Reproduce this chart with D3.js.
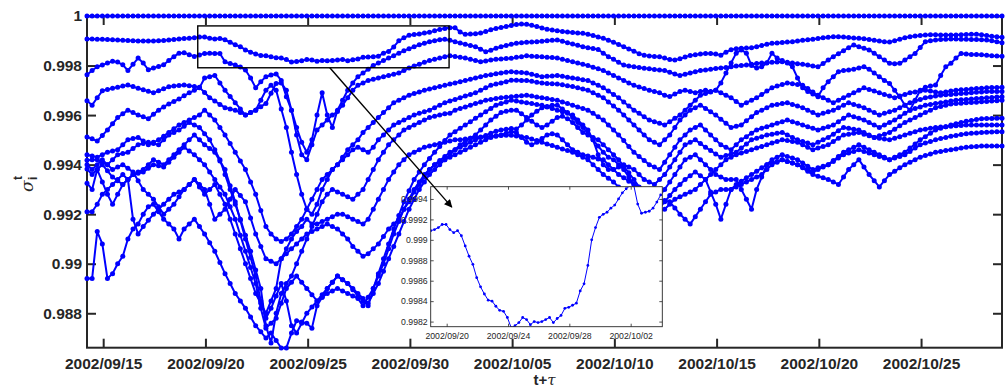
<!DOCTYPE html>
<html>
<head>
<meta charset="utf-8">
<script src="https://cdn.jsdelivr.net/npm/d3@7/dist/d3.min.js"></script>
<style>
  body { margin: 0; background: #fff; }
  svg { display: block; }
</style>
</head>
<body>
<svg id="chart" width="1006" height="389"></svg>
<script>
// samples are 6-hourly, first one at this time
const firstSample = '2002/09/14 05:00';
const sampleStepHours = 6;

// sigma_i^t for the twelve nodes
const series1 = [
1,1,1,1,1,1,1,1,1,1, 1,1,1,1,1,1,1,1,1,1, 1,1,1,1,1,1,1,1,1,1,
1,1,1,1,1,1,1,1,1,1, 1,1,1,1,1,1,1,1,1,1, 1,1,1,1,1,1,1,1,1,1,
1,1,1,1,1,1,1,1,1,1, 1,1,1,1,1,1,1,1,1,1, 1,1,1,1,1,1,1,1,1,1,
1,1,1,1,1,1,1,1,1,1, 1,1,1,1,1,1,1,1,1,1, 1,1,1,1,1,1,1,1,1,1,
1,1,1,1,1,1,1,1,1,1, 1,1,1,1,1,1,1,1,1,1, 1,1,1,1,1,1,1,1,1,1,
1,1,1,1,1,1,1,1,1,1, 1,1,1,1,1,1,1,1,1,1, 1,1,1,1,1,1,1,1,1,1];
const series2 = [
0.99907,0.99907,0.99906,0.99906,0.99905,0.99904,0.99903,0.99902,0.99901,0.999,
0.99899,0.99899,0.99899,0.99899,0.999,0.99901,0.99903,0.99905,0.99907,0.99909,
0.9991,0.99912,0.99915,0.99915,0.9991,0.99907,0.99909,0.99904,0.99894,0.99884,
0.99876,0.99863,0.99854,0.99847,0.99841,0.9984,0.99835,0.99831,0.9983,0.99824,
0.99814,0.99816,0.99819,0.99824,0.99822,0.99817,0.9982,0.99819,0.9982,0.99822,
0.99824,0.99819,0.99823,0.99826,0.99833,0.99834,0.99836,0.99838,0.9985,0.99857,
0.99875,0.999,0.99912,0.99922,0.99925,0.99927,0.99931,0.99934,0.9994,0.99946,
0.9995,0.99953,0.99953,0.99935,0.99926,0.99927,0.99928,0.99931,0.99937,0.99944,
0.9995,0.99954,0.99958,0.99962,0.99966,0.99968,0.99967,0.99963,0.99958,0.99952,
0.99947,0.99943,0.9994,0.99937,0.99935,0.99933,0.99931,0.9993,0.99926,0.99921,
0.99915,0.9991,0.99902,0.99894,0.99885,0.99876,0.99867,0.99858,0.99848,0.99842,
0.99839,0.99837,0.99836,0.9983,0.99824,0.99822,0.99827,0.99834,0.99841,0.99844,
0.99847,0.99849,0.99849,0.99847,0.99842,0.99854,0.99864,0.99868,0.9987,0.99871,
0.99872,0.99876,0.99881,0.99886,0.9989,0.99891,0.99893,0.99895,0.99896,0.99899,
0.99902,0.99904,0.99906,0.99909,0.99912,0.99914,0.99916,0.99916,0.99915,0.99913,
0.99911,0.9991,0.99908,0.99905,0.99902,0.99899,0.99896,0.99895,0.999,0.99906,
0.99912,0.99916,0.99919,0.99921,0.99923,0.99924,0.99924,0.99923,0.99923,0.99923,
0.99923,0.99924,0.99925,0.99926,0.99926,0.99924,0.99921,0.99918,0.99916,0.99914];
const series3 = [
0.99763,0.9978,0.99795,0.99802,0.9981,0.99817,0.99814,0.99803,0.9978,0.99805,
0.9983,0.9981,0.99783,0.9979,0.99796,0.99803,0.9982,0.99836,0.9985,0.99852,
0.99844,0.99837,0.99843,0.99849,0.9985,0.99849,0.99849,0.99815,0.99808,0.99802,
0.99794,0.99782,0.9975,0.9971,0.99735,0.99755,0.99762,0.99766,0.9974,0.99674,
0.9962,0.9955,0.9949,0.9945,0.995,0.996,0.9969,0.996,0.9955,0.9962,
0.9966,0.997,0.9973,0.99755,0.9977,0.99785,0.998,0.9981,0.9982,0.9983,
0.9984,0.9985,0.9986,0.99868,0.99876,0.99884,0.9989,0.99896,0.999,0.99904,
0.99906,0.99902,0.99896,0.99891,0.99886,0.99881,0.99876,0.99866,0.99856,0.99862,
0.9987,0.99876,0.99881,0.99886,0.9989,0.99892,0.99894,0.99895,0.99896,0.99898,
0.999,0.99902,0.99903,0.99898,0.99892,0.99887,0.99882,0.99876,0.99872,0.99869,
0.99865,0.9985,0.99836,0.99825,0.99813,0.99802,0.99798,0.99795,0.99792,0.99789,
0.99787,0.99784,0.99782,0.9978,0.99773,0.99766,0.9976,0.99765,0.9977,0.99775,
0.9978,0.99782,0.99785,0.99788,0.9979,0.99792,0.99795,0.99798,0.998,0.99802,
0.99805,0.99808,0.9981,0.99811,0.99813,0.99814,0.99815,0.99813,0.9981,0.99807,
0.99805,0.99802,0.99798,0.99795,0.99808,0.99822,0.99836,0.99848,0.9986,0.99872,
0.99883,0.99876,0.9987,0.99863,0.9985,0.99835,0.99822,0.99809,0.99807,0.99809,
0.99822,0.99836,0.99849,0.99873,0.99896,0.999,0.99903,0.99905,0.99906,0.99907,
0.99907,0.99906,0.99906,0.99905,0.99905,0.99904,0.99903,0.999,0.99896,0.99892];
const series4 = [
0.99658,0.9964,0.9967,0.99698,0.99703,0.99708,0.99712,0.99717,0.99721,0.99715,
0.99708,0.99702,0.99696,0.9969,0.99698,0.99706,0.99714,0.99717,0.99719,0.99721,
0.99718,0.99715,0.99712,0.99691,0.9967,0.99657,0.99643,0.9963,0.99625,0.9962,
0.9961,0.996,0.9961,0.9962,0.99634,0.99647,0.99688,0.99728,0.9973,0.997,
0.9962,0.9952,0.9944,0.9942,0.9948,0.9954,0.9956,0.9958,0.996,0.99614,
0.9964,0.9967,0.997,0.9972,0.9973,0.9974,0.99745,0.9975,0.99755,0.9976,
0.99765,0.9977,0.9978,0.9979,0.99798,0.99805,0.99813,0.9982,0.99825,0.9983,
0.99835,0.9984,0.99837,0.99833,0.9983,0.99825,0.9982,0.99815,0.99818,0.99822,
0.99825,0.99826,0.99828,0.99829,0.99833,0.99836,0.9984,0.99838,0.99837,0.99835,
0.99833,0.99832,0.9983,0.99825,0.9982,0.99815,0.9981,0.99805,0.998,0.99793,
0.99787,0.9978,0.9977,0.9976,0.9975,0.9974,0.9973,0.9972,0.99713,0.99707,
0.997,0.99695,0.9969,0.9968,0.99675,0.99685,0.99695,0.997,0.99695,0.9969,
0.99695,0.997,0.99695,0.997,0.9973,0.9977,0.9981,0.9985,0.99863,0.9985,
0.998,0.9979,0.99795,0.9981,0.9985,0.9983,0.9982,0.9981,0.99795,0.9975,
0.9971,0.99695,0.99685,0.99674,0.9971,0.99735,0.99755,0.99775,0.9978,0.99782,
0.99785,0.9979,0.99795,0.99785,0.9977,0.99755,0.9974,0.99728,0.997,0.99674,
0.9964,0.9962,0.9966,0.997,0.99712,0.99717,0.99721,0.9976,0.99795,0.99809,
0.9983,0.99849,0.99847,0.99845,0.99845,0.99844,0.99842,0.9984,0.99839,0.99838];
const series5 = [
0.99512,0.99504,0.99495,0.99518,0.9954,0.99565,0.9959,0.99605,0.9962,0.9961,
0.996,0.99593,0.99585,0.99603,0.9962,0.99633,0.99645,0.99655,0.99665,0.99678,
0.9969,0.997,0.9971,0.9975,0.99755,0.9976,0.9973,0.997,0.99675,0.9965,
0.99625,0.996,0.9961,0.9962,0.9966,0.997,0.9972,0.997,0.99625,0.9955,
0.9945,0.9936,0.9928,0.9922,0.992,0.9924,0.993,0.9934,0.9938,0.994,
0.9943,0.9946,0.9948,0.995,0.9953,0.9955,0.9957,0.9959,0.9961,0.9963,
0.9965,0.9966,0.9967,0.9968,0.99687,0.99693,0.997,0.99705,0.9971,0.99715,
0.9972,0.99725,0.9973,0.99735,0.9974,0.99745,0.9975,0.99755,0.9976,0.99763,
0.99767,0.9977,0.99773,0.99775,0.99773,0.99772,0.9977,0.99765,0.9976,0.99755,
0.99757,0.99758,0.9976,0.99757,0.99753,0.9975,0.99747,0.99743,0.9974,0.9973,
0.9972,0.9971,0.99697,0.99683,0.9967,0.99653,0.99637,0.9962,0.99607,0.99593,
0.9958,0.99573,0.99567,0.9956,0.99573,0.99587,0.996,0.9962,0.9964,0.9966,
0.9968,0.99687,0.99693,0.997,0.9969,0.9968,0.9967,0.99655,0.9964,0.9965,
0.9966,0.9967,0.99683,0.99697,0.9971,0.99717,0.99723,0.9973,0.99727,0.99723,
0.9972,0.99707,0.99693,0.9968,0.9967,0.9966,0.9965,0.9966,0.9967,0.9968,
0.9969,0.997,0.9971,0.99703,0.99697,0.9969,0.99683,0.99677,0.9967,0.99677,
0.99683,0.9969,0.99693,0.99697,0.997,0.99697,0.99693,0.9969,0.99693,0.99697,
0.997,0.99702,0.99703,0.99705,0.99707,0.99708,0.9971,0.99711,0.99711,0.99712];
const series6 = [
0.9944,0.99435,0.9943,0.9944,0.9945,0.99455,0.9946,0.9948,0.995,0.99505,
0.9951,0.99495,0.9948,0.9949,0.995,0.99515,0.9953,0.99545,0.9956,0.9957,
0.9958,0.9959,0.996,0.9962,0.996,0.9958,0.9955,0.9952,0.99485,0.9945,
0.99415,0.9938,0.9933,0.9928,0.99215,0.9915,0.9912,0.991,0.9909,0.991,
0.9912,0.9915,0.9918,0.9922,0.9926,0.993,0.9934,0.9936,0.9938,0.994,
0.9942,0.9944,0.9946,0.9947,0.9946,0.9945,0.9947,0.995,0.9952,0.9954,
0.9956,0.9957,0.9958,0.9959,0.996,0.99607,0.99613,0.9962,0.9963,0.9964,
0.9965,0.99657,0.99663,0.9967,0.99677,0.99683,0.9969,0.997,0.9971,0.9972,
0.99725,0.9973,0.99735,0.99741,0.99741,0.9974,0.9974,0.99737,0.99733,0.9973,
0.99728,0.99727,0.99725,0.99722,0.99718,0.99715,0.9971,0.99705,0.997,0.9969,
0.9968,0.9967,0.99653,0.99637,0.9962,0.996,0.9958,0.9956,0.9954,0.9952,
0.995,0.9949,0.9948,0.995,0.9952,0.9955,0.9958,0.996,0.9962,0.9963,
0.9964,0.99627,0.99613,0.996,0.99583,0.99567,0.9955,0.99555,0.9956,0.99577,
0.99593,0.9961,0.9962,0.9963,0.9964,0.99643,0.99647,0.9965,0.99643,0.99637,
0.9963,0.9962,0.9961,0.996,0.99607,0.99613,0.9962,0.9963,0.9964,0.9965,
0.99643,0.99637,0.9963,0.9962,0.9961,0.996,0.99607,0.99613,0.9962,0.9963,
0.9964,0.9965,0.99657,0.99663,0.9967,0.99673,0.99677,0.9968,0.99682,0.99683,
0.99685,0.99687,0.99688,0.9969,0.99692,0.99693,0.99695,0.99695,0.99695,0.99695];
const series7 = [
0.99418,0.9942,0.9942,0.9941,0.994,0.9942,0.9944,0.99445,0.9945,0.99465,
0.9948,0.99485,0.9949,0.99485,0.9948,0.995,0.9952,0.9953,0.9954,0.99555,
0.9957,0.9956,0.9955,0.99525,0.995,0.9946,0.9942,0.9936,0.993,0.9924,
0.9918,0.99115,0.9905,0.98975,0.989,0.9875,0.9868,0.988,0.9888,0.9892,
0.9895,0.99,0.9905,0.991,0.9915,0.992,0.9925,0.9928,0.993,0.9929,
0.9928,0.9927,0.9926,0.9928,0.993,0.9934,0.9938,0.9942,0.9945,0.9948,
0.995,0.9952,0.9954,0.9955,0.9956,0.9957,0.9958,0.9959,0.99595,0.996,
0.99605,0.99607,0.9962,0.99627,0.99633,0.9964,0.99647,0.99653,0.9966,0.99663,
0.99667,0.9967,0.99672,0.99674,0.99676,0.99678,0.9968,0.99677,0.99673,0.9967,
0.99667,0.99663,0.9966,0.99653,0.99647,0.9964,0.99633,0.99627,0.9962,0.99607,
0.99593,0.9958,0.9956,0.9954,0.9952,0.99497,0.99473,0.9945,0.99433,0.99417,
0.994,0.9939,0.9938,0.9941,0.9944,0.9947,0.995,0.9952,0.9954,0.9955,
0.9956,0.9954,0.9952,0.995,0.9948,0.9947,0.9946,0.9948,0.995,0.99513,
0.99527,0.9954,0.99547,0.99553,0.9956,0.99567,0.99573,0.9958,0.99573,0.99567,
0.9956,0.99553,0.99547,0.9954,0.99547,0.99553,0.9956,0.99573,0.99587,0.996,
0.99593,0.99587,0.9958,0.9957,0.9956,0.9955,0.9956,0.9957,0.9958,0.99593,
0.99607,0.9962,0.99627,0.99633,0.9964,0.99643,0.99647,0.9965,0.99653,0.99657,
0.9966,0.99662,0.99663,0.99665,0.99667,0.99668,0.9967,0.99671,0.99673,0.99674];
const series8 = [
0.99382,0.9936,0.9938,0.994,0.99375,0.9935,0.99335,0.9932,0.9934,0.9936,
0.9937,0.9938,0.994,0.9942,0.9941,0.994,0.9942,0.9944,0.9946,0.9948,
0.995,0.9952,0.995,0.9948,0.99465,0.9945,0.99415,0.9938,0.99315,0.9925,
0.99175,0.991,0.99025,0.9895,0.9885,0.9878,0.9882,0.9887,0.9892,0.9885,
0.9875,0.9872,0.9876,0.988,0.98825,0.9885,0.98865,0.9888,0.9889,0.989,
0.9889,0.9888,0.9887,0.9886,0.9883,0.98865,0.989,0.9896,0.9902,0.9908,
0.9914,0.99195,0.9925,0.99295,0.9934,0.9937,0.994,0.99425,0.9945,0.99473,
0.99497,0.9952,0.99533,0.99547,0.9956,0.99573,0.99587,0.996,0.99613,0.99627,
0.9964,0.99647,0.99653,0.9966,0.99657,0.99653,0.9965,0.99647,0.99643,0.9964,
0.99633,0.99627,0.9962,0.99613,0.99607,0.996,0.9958,0.9956,0.9954,0.995,
0.9944,0.994,0.9938,0.9938,0.9939,0.994,0.9939,0.9938,0.9936,0.9934,
0.9933,0.9932,0.9934,0.9936,0.9939,0.9942,0.9945,0.9948,0.9949,0.995,
0.99485,0.9947,0.99457,0.99443,0.9943,0.99437,0.99443,0.9945,0.99467,0.99483,
0.995,0.99507,0.99513,0.9952,0.99523,0.99527,0.9953,0.9952,0.9951,0.995,
0.99493,0.99487,0.9948,0.9949,0.995,0.9951,0.99523,0.99537,0.9955,0.99547,
0.99543,0.9954,0.9953,0.9952,0.9951,0.99517,0.99523,0.9953,0.99543,0.99557,
0.9957,0.9958,0.9959,0.996,0.9961,0.9962,0.9963,0.99635,0.9964,0.99645,
0.99647,0.99648,0.9965,0.99651,0.99652,0.99654,0.99655,0.99657,0.99658,0.9966];
const series9 = [
0.99325,0.993,0.9938,0.9933,0.9928,0.9924,0.9928,0.9932,0.9934,0.9936,
0.99365,0.9937,0.99385,0.994,0.99395,0.9939,0.9941,0.9943,0.9945,0.9947,
0.99455,0.9944,0.9942,0.994,0.9937,0.9934,0.9931,0.9928,0.9923,0.9918,
0.99115,0.9905,0.98985,0.9892,0.9882,0.9874,0.9876,0.9878,0.9884,0.989,
0.98925,0.9895,0.98925,0.989,0.98875,0.9885,0.98875,0.989,0.98925,0.9895,
0.98935,0.9892,0.989,0.9888,0.9886,0.9884,0.9888,0.9892,0.9897,0.9902,
0.9907,0.9912,0.9917,0.9922,0.9926,0.993,0.9933,0.9936,0.9938,0.994,
0.9942,0.9944,0.9946,0.9948,0.99493,0.99507,0.9952,0.9954,0.9956,0.9958,
0.99595,0.9961,0.99615,0.9962,0.9962,0.99605,0.9959,0.99575,0.9956,0.9955,
0.9956,0.99575,0.9959,0.99595,0.99585,0.9957,0.9955,0.9953,0.9952,0.9951,
0.995,0.9948,0.9946,0.9944,0.9942,0.99393,0.99367,0.9934,0.9931,0.9928,
0.99265,0.9925,0.99275,0.993,0.9933,0.9936,0.9939,0.9942,0.9943,0.9944,
0.9942,0.994,0.9938,0.9936,0.9935,0.9934,0.9934,0.9934,0.993,0.9926,
0.9922,0.993,0.9935,0.994,0.9942,0.9943,0.9944,0.99433,0.99427,0.9942,
0.99407,0.99393,0.9938,0.99387,0.99393,0.994,0.99413,0.99427,0.9944,0.99447,
0.99453,0.9946,0.99453,0.99447,0.9944,0.99433,0.99427,0.9942,0.9943,0.9944,
0.9945,0.99467,0.99483,0.995,0.99513,0.99527,0.9954,0.99547,0.99553,0.9956,
0.99565,0.9957,0.99575,0.99578,0.99582,0.99585,0.99586,0.99586,0.99587,0.99587];
const series10 = [
0.9921,0.9921,0.9924,0.9928,0.993,0.9932,0.9934,0.9936,0.9934,0.9918,
0.9912,0.9915,0.99175,0.992,0.9922,0.9924,0.9926,0.9928,0.9929,0.993,
0.9932,0.9934,0.9932,0.993,0.9924,0.9918,0.992,0.9922,0.9926,0.993,
0.99275,0.9925,0.99185,0.9912,0.9907,0.9902,0.9901,0.99,0.9902,0.9904,
0.9906,0.9908,0.991,0.9912,0.9913,0.9914,0.9915,0.9916,0.9915,0.9914,
0.9912,0.991,0.9907,0.9905,0.9903,0.9904,0.9906,0.9908,0.9911,0.9914,
0.9916,0.9918,0.9922,0.9925,0.9929,0.9932,0.9935,0.9938,0.994,0.99417,
0.99433,0.9945,0.9946,0.9947,0.9948,0.9949,0.995,0.9951,0.99518,0.99527,
0.99535,0.9954,0.99543,0.99546,0.99544,0.9956,0.9958,0.996,0.99615,0.9963,
0.99635,0.9964,0.9964,0.99625,0.9961,0.9959,0.9957,0.9955,0.99525,0.995,
0.99475,0.9945,0.9943,0.9942,0.994,0.9938,0.9935,0.9932,0.9928,0.9924,
0.9922,0.992,0.99225,0.9925,0.99275,0.993,0.9932,0.9934,0.99355,0.9937,
0.99355,0.9934,0.9929,0.9924,0.9918,0.9924,0.993,0.9932,0.99333,0.99347,
0.9936,0.99373,0.99387,0.994,0.99407,0.99413,0.9942,0.99413,0.99407,0.994,
0.9939,0.9938,0.9937,0.9938,0.9939,0.994,0.99417,0.99433,0.9945,0.9946,
0.9947,0.9948,0.9947,0.9946,0.9945,0.9944,0.9943,0.9942,0.99427,0.99433,
0.9944,0.99453,0.99467,0.9948,0.99487,0.99493,0.995,0.99505,0.9951,0.99515,
0.99518,0.99522,0.99525,0.99527,0.99528,0.9953,0.99531,0.99532,0.99533,0.99533];
const series11 = [
0.9894,0.9894,0.9913,0.9908,0.9894,0.9896,0.99,0.9903,0.991,0.9914,
0.9916,0.992,0.9923,0.9924,0.9921,0.9918,0.9916,0.9914,0.991,0.9914,
0.9916,0.9918,0.9915,0.9912,0.99085,0.9905,0.99005,0.9896,0.9892,0.9888,
0.9885,0.9882,0.98785,0.9875,0.98725,0.987,0.9872,0.9869,0.9866,0.9866,
0.9872,0.9877,0.98765,0.9876,0.9874,0.9883,0.98865,0.989,0.98925,0.9895,
0.98935,0.9892,0.98895,0.9887,0.9885,0.9883,0.989,0.9895,0.99,0.9906,
0.9912,0.9917,0.9922,0.9926,0.993,0.9933,0.9936,0.9938,0.994,0.9941,
0.9942,0.9943,0.9944,0.9945,0.9946,0.9947,0.9948,0.9949,0.995,0.9951,
0.99515,0.9952,0.99527,0.99533,0.9953,0.9951,0.9949,0.9948,0.9949,0.99505,
0.9952,0.99525,0.9952,0.995,0.9948,0.9946,0.9945,0.9944,0.99435,0.9943,
0.99423,0.9942,0.994,0.9938,0.9936,0.99347,0.99333,0.9932,0.99307,0.99293,
0.9928,0.9927,0.9926,0.99255,0.9925,0.99225,0.992,0.9918,0.9916,0.9919,
0.9922,0.9925,0.9928,0.9929,0.993,0.993,0.993,0.9931,0.9932,0.9933,
0.9934,0.9935,0.9936,0.9938,0.994,0.9941,0.9942,0.99413,0.99407,0.994,
0.99387,0.99373,0.9936,0.99353,0.99347,0.9934,0.9933,0.9932,0.9935,0.9938,
0.994,0.9942,0.9939,0.9936,0.99335,0.9931,0.99335,0.9936,0.99373,0.99387,
0.994,0.9941,0.9942,0.9943,0.99437,0.99443,0.9945,0.99453,0.99457,0.9946,
0.99463,0.99467,0.9947,0.99472,0.99473,0.99475,0.99475,0.99475,0.99475,0.99475];
const series12 = [
0.994,0.9938,0.994,0.9942,0.994,0.9938,0.9939,0.994,0.99385,0.9937,
0.99335,0.993,0.9928,0.9926,0.9923,0.992,0.9922,0.9924,0.9927,0.993,
0.9932,0.9934,0.9931,0.9928,0.993,0.9932,0.9928,0.9924,0.9918,0.9912,
0.9906,0.99,0.9894,0.9888,0.9884,0.988,0.9885,0.989,0.9902,0.9906,
0.991,0.9913,0.9915,0.9918,0.9916,0.9916,0.9917,0.9918,0.9919,0.992,
0.992,0.9919,0.9918,0.9917,0.9916,0.9918,0.9922,0.9926,0.993,0.9934,
0.9937,0.994,0.9942,0.9944,0.9945,0.9946,0.9947,0.99475,0.9948,0.99485,
0.9949,0.99495,0.995,0.995,0.99503,0.99507,0.9951,0.99512,0.99513,0.99515,
0.99517,0.99518,0.99519,0.99519,0.99516,0.99513,0.9951,0.99503,0.99497,0.9949,
0.99483,0.99477,0.9947,0.99463,0.99457,0.9945,0.9944,0.9943,0.9942,0.994,
0.9938,0.9936,0.99345,0.9933,0.9931,0.9929,0.9927,0.9925,0.9923,0.9922,
0.9921,0.992,0.9921,0.9922,0.9924,0.9926,0.9927,0.9928,0.9929,0.993,
0.9932,0.9934,0.9936,0.9938,0.994,0.9942,0.9943,0.9944,0.99447,0.99453,
0.9946,0.99467,0.99473,0.9948,0.99487,0.99493,0.995,0.99497,0.99493,0.9949,
0.9948,0.9947,0.9946,0.99467,0.99473,0.9948,0.99493,0.99507,0.9952,0.99523,
0.99527,0.9953,0.99523,0.99517,0.9951,0.99507,0.99503,0.995,0.99507,0.99513,
0.9952,0.99527,0.99533,0.9954,0.99543,0.99547,0.9955,0.99552,0.99553,0.99555,
0.99557,0.99558,0.9956,0.9956,0.9956,0.9956,0.9956,0.9956,0.9956,0.9956];

const allSeries = [series1, series2, series3, series4, series5, series6,
  series7, series8, series9, series10, series11, series12];

const mainYRange = [0.98661, 1];
const yTickValues = [0.988, 0.99, 0.992, 0.994, 0.996, 0.998, 1];
const yTickLabels = ['0.988', '0.99', '0.992', '0.994', '0.996', '0.998', '1'];
const xTickLabels = ['2002/09/15', '2002/09/20', '2002/09/25', '2002/09/30', '2002/10/05',
  '2002/10/10', '2002/10/15', '2002/10/20', '2002/10/25'];

// zoom window marked on the main plot
const zoomStart = '2002/09/19 15:00';
const zoomEnd = '2002/10/01 22:00';
const zoomTop = 0.9996;
const zoomBottom = 0.99791;
const arrowFrom = '2002/09/26 02:00';
const arrowTo = ['2002/09/20 08:00', 0.99932];

// inset: close-up of series2
const insetXRange = ['2002/09/18 23:00', '2002/10/04 01:30'];
const insetYRange = [0.99815, 0.99952];
const insetYTickValues = [0.9982, 0.9984, 0.9986, 0.9988, 0.999, 0.9992, 0.9994];
const insetYTickLabels = ['0.9982', '0.9984', '0.9986', '0.9988', '0.999', '0.9992', '0.9994'];
const insetXTickLabels = ['2002/09/20', '2002/09/24', '2002/09/28', '2002/10/02'];

const blue = '#0000ff';
const ink = '#262626';
const fontFamily = '"Liberation Sans", Arial, Helvetica, sans-serif';

const plot = { left: 87, right: 1002, top: 16, bottom: 347.7 };
const box = { left: 430.7, right: 662.3, top: 186.7, bottom: 326.7 };

const parseDay = d3.timeParse('%Y/%m/%d');
const parseTime = d3.timeParse('%Y/%m/%d %H:%M');
const t0 = parseTime(firstSample);
const timeAt = i => d3.timeHour.offset(t0, i * sampleStepHours);

const svg = d3.select('#chart');

const x = d3.scaleTime()
  .domain([t0, timeAt(series1.length - 1)])
  .range([plot.left, plot.right]);
const y = d3.scaleLinear().domain(mainYRange).range([plot.bottom, plot.top]);

// frame + ticks (ticks point inwards)
svg.append('rect')
  .attr('x', plot.left).attr('y', plot.top)
  .attr('width', plot.right - plot.left).attr('height', plot.bottom - plot.top)
  .attr('fill', 'none').attr('stroke', ink).attr('stroke-width', 2);

const xTicks = xTickLabels.map(parseDay);

const gBottom = svg.append('g')
  .attr('transform', `translate(0,${plot.bottom})`)
  .call(d3.axisBottom(x).tickValues(xTicks).tickFormat(d3.timeFormat('%Y/%m/%d')).tickSize(-9).tickPadding(10));
const gTop = svg.append('g')
  .attr('transform', `translate(0,${plot.top})`)
  .call(d3.axisTop(x).tickValues(xTicks).tickFormat('').tickSize(-9));
const gLeft = svg.append('g')
  .attr('transform', `translate(${plot.left},0)`)
  .call(d3.axisLeft(y).tickValues(yTickValues).tickFormat((d, i) => yTickLabels[i]).tickSize(-9).tickPadding(5));
const gRight = svg.append('g')
  .attr('transform', `translate(${plot.right},0)`)
  .call(d3.axisRight(y).tickValues(yTickValues).tickFormat('').tickSize(-9));

[gBottom, gTop, gLeft, gRight].forEach(g => {
  g.select('.domain').remove();
  g.selectAll('.tick line').attr('stroke', ink).attr('stroke-width', 2);
  g.selectAll('text')
    .attr('fill', ink)
    .style('font', `bold 15.5px ${fontFamily}`);
});

// data
const line = d3.line()
  .x((d, i) => x(timeAt(i)))
  .y(d => y(d));

const gData = svg.append('g');
allSeries.forEach(s => {
  gData.append('path')
    .datum(s)
    .attr('d', line)
    .attr('fill', 'none')
    .attr('stroke', blue)
    .attr('stroke-width', 2)
    .attr('stroke-linejoin', 'round');
  gData.selectAll(null)
    .data(s)
    .enter()
    .append('circle')
    .attr('cx', (d, i) => x(timeAt(i)))
    .attr('cy', d => y(d))
    .attr('r', 2.5)
    .attr('fill', blue);
});

// zoom window
svg.append('rect')
  .attr('x', x(parseTime(zoomStart)))
  .attr('y', y(zoomTop))
  .attr('width', x(parseTime(zoomEnd)) - x(parseTime(zoomStart)))
  .attr('height', y(zoomBottom) - y(zoomTop))
  .attr('fill', 'none')
  .attr('stroke', '#000')
  .attr('stroke-width', 1.4);

// inset
const ix = d3.scaleTime().domain(insetXRange.map(parseTime)).range([box.left, box.right]);
const iy = d3.scaleLinear().domain(insetYRange).range([box.bottom, box.top]);

const gInset = svg.append('g');
gInset.append('rect')
  .attr('x', box.left).attr('y', box.top)
  .attr('width', box.right - box.left).attr('height', box.bottom - box.top)
  .attr('fill', '#fff');

svg.append('clipPath').attr('id', 'insetClip')
  .append('rect')
  .attr('x', box.left).attr('y', box.top)
  .attr('width', box.right - box.left).attr('height', box.bottom - box.top);

const insetStart = parseTime(insetXRange[0]);
const insetEnd = parseTime(insetXRange[1]);
const insetPoints = series2
  .map((v, i) => ({ t: timeAt(i), v }))
  .filter(p => p.t >= insetStart && p.t <= insetEnd);

const gInsetData = gInset.append('g').attr('clip-path', 'url(#insetClip)');
gInsetData.append('path')
  .datum(insetPoints)
  .attr('d', d3.line().x(p => ix(p.t)).y(p => iy(p.v)))
  .attr('fill', 'none')
  .attr('stroke', blue)
  .attr('stroke-width', 1);
gInsetData.selectAll('circle')
  .data(insetPoints)
  .enter()
  .append('circle')
  .attr('cx', p => ix(p.t))
  .attr('cy', p => iy(p.v))
  .attr('r', 1.4)
  .attr('fill', blue);

const insetXTicks = insetXTickLabels.map(parseDay);
const iBottom = gInset.append('g')
  .attr('transform', `translate(0,${box.bottom})`)
  .call(d3.axisBottom(ix).tickValues(insetXTicks).tickFormat(d3.timeFormat('%Y/%m/%d')).tickSize(-3).tickPadding(6));
const iTop = gInset.append('g')
  .attr('transform', `translate(0,${box.top})`)
  .call(d3.axisTop(ix).tickValues(insetXTicks).tickFormat('').tickSize(-3));
const iLeft = gInset.append('g')
  .attr('transform', `translate(${box.left},0)`)
  .call(d3.axisLeft(iy).tickValues(insetYTickValues).tickFormat((d, i) => insetYTickLabels[i]).tickSize(-3).tickPadding(3));
const iRight = gInset.append('g')
  .attr('transform', `translate(${box.right},0)`)
  .call(d3.axisRight(iy).tickValues(insetYTickValues).tickFormat('').tickSize(-3));

[iBottom, iTop, iLeft, iRight].forEach(g => {
  g.select('.domain').remove();
  g.selectAll('.tick line').attr('stroke', ink).attr('stroke-width', 0.8);
  g.selectAll('text').attr('fill', ink).style('font', `8.7px ${fontFamily}`);
});

gInset.append('rect')
  .attr('x', box.left).attr('y', box.top)
  .attr('width', box.right - box.left).attr('height', box.bottom - box.top)
  .attr('fill', 'none').attr('stroke', ink).attr('stroke-width', 0.9);

// arrow from zoom window into the inset
svg.append('defs').append('marker')
  .attr('id', 'arrowHead')
  .attr('viewBox', '0 0 10 10')
  .attr('refX', 9).attr('refY', 5)
  .attr('markerUnits', 'userSpaceOnUse')
  .attr('markerWidth', 10).attr('markerHeight', 8)
  .attr('orient', 'auto')
  .append('path')
  .attr('d', 'M0,0L10,5L0,10Z')
  .attr('fill', '#000');

svg.append('line')
  .attr('x1', x(parseTime(arrowFrom)))
  .attr('y1', y(zoomBottom))
  .attr('x2', ix(parseTime(arrowTo[0])))
  .attr('y2', iy(arrowTo[1]))
  .attr('stroke', '#000')
  .attr('stroke-width', 1.4)
  .attr('marker-end', 'url(#arrowHead)');

// axis titles
const xTitle = svg.append('text')
  .attr('x', (plot.left + plot.right) / 2)
  .attr('y', 385)
  .attr('text-anchor', 'middle')
  .attr('fill', ink)
  .style('font-family', fontFamily)
  .style('font-size', '15px');
xTitle.append('tspan').attr('font-weight', 'bold').text('t+');
xTitle.append('tspan').attr('font-style', 'italic').style('font-family', '"DejaVu Serif", serif').text('τ');

const yTitle = svg.append('g').attr('transform', 'translate(33,192) rotate(-90)');
yTitle.append('text')
  .attr('x', 0).attr('y', 0)
  .attr('fill', ink)
  .style('font', `italic 17px "DejaVu Serif", serif`)
  .text('σ');
yTitle.append('text')
  .attr('x', 12).attr('y', -11)
  .attr('fill', ink)
  .style('font', `bold 12px ${fontFamily}`)
  .text('t');
yTitle.append('text')
  .attr('x', 12).attr('y', 4)
  .attr('fill', ink)
  .style('font', `bold 12px ${fontFamily}`)
  .text('i');
</script>
</body>
</html>
